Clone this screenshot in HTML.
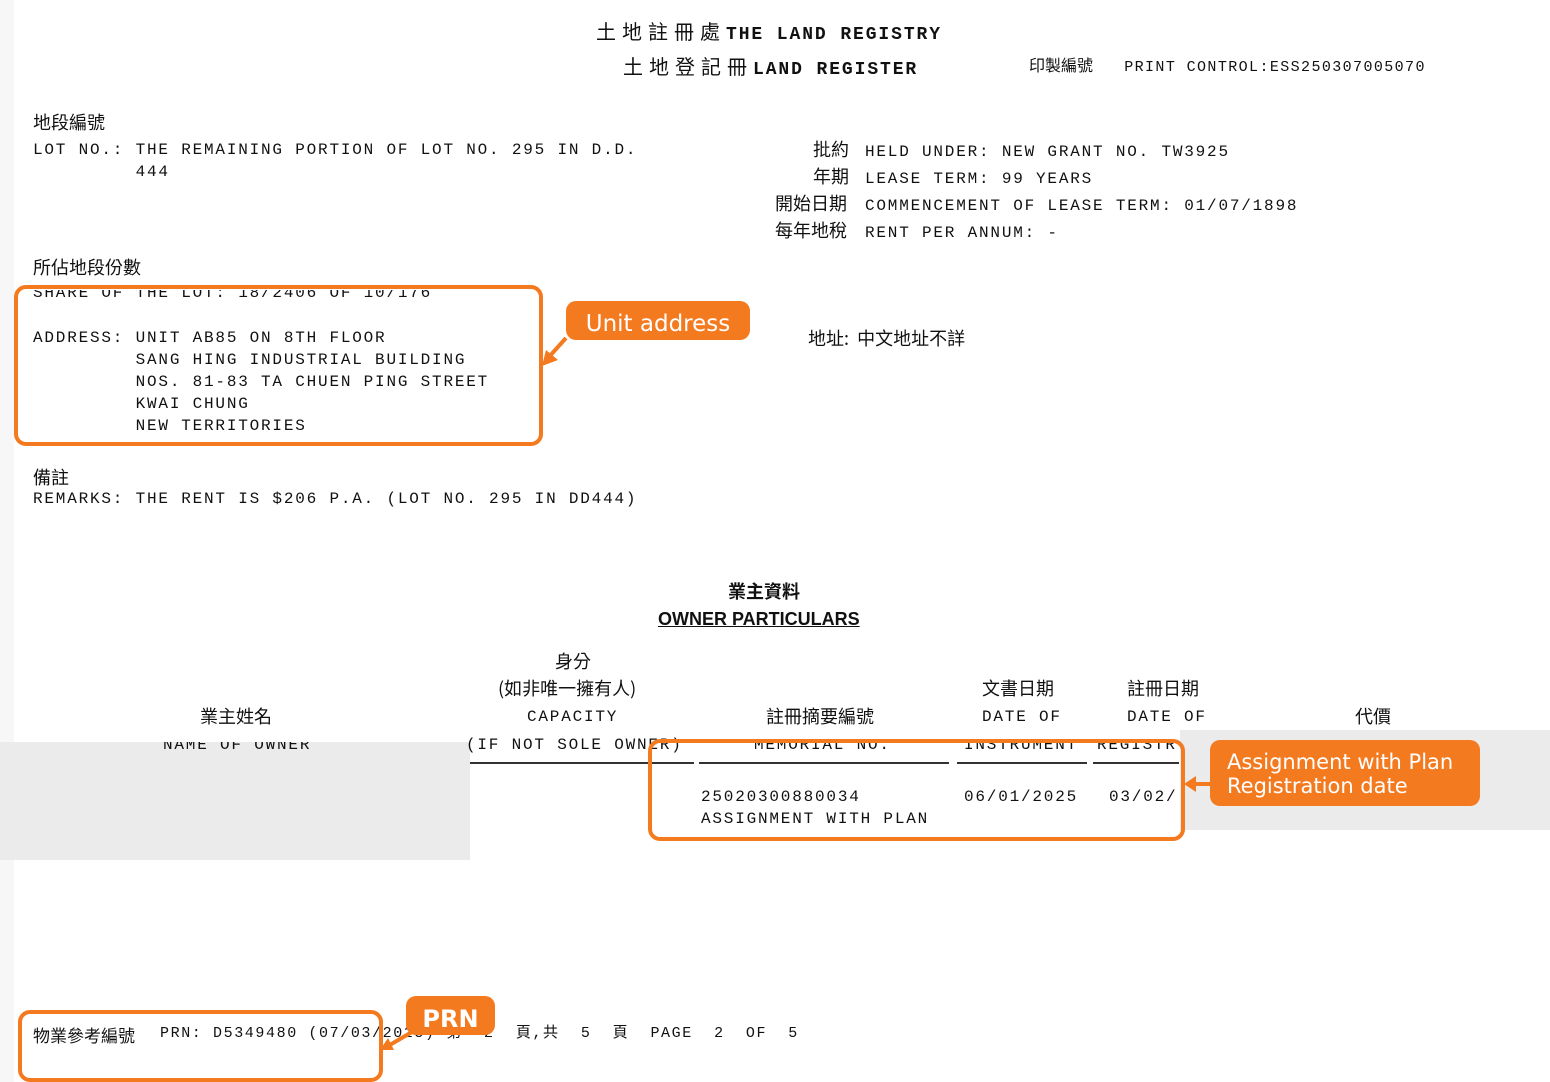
<!DOCTYPE html>
<html><head><meta charset="utf-8"><style>
body{margin:0;width:1550px;height:1082px;background:#fff;position:relative;overflow:hidden;font-family:"Liberation Sans","Noto Sans CJK TC",sans-serif;color:#111}
.a{position:absolute;white-space:pre}
.m{font-family:"Liberation Mono","Noto Sans CJK TC",monospace;font-size:16px;letter-spacing:1.8px;line-height:22px}
.c{font-family:"Noto Sans CJK TC",sans-serif;font-size:18px}
.box{position:absolute;border:4px solid #f47a20;border-radius:12px}
.tag{position:absolute;background:#f47a20;color:#fff;border-radius:10px;font-family:"DejaVu Sans",sans-serif}
.g{position:absolute;background:#ebebeb}
</style></head><body>
<div class="g" style="left:0;top:0;width:14px;height:1082px;background:#f7f7f7"></div>
<div class="g" style="left:0;top:742px;width:470px;height:118px"></div>
<div class="g" style="left:1180px;top:730px;width:370px;height:100px"></div>

<div class="a" style="left:596px;top:16px;font-size:20px"><span class="c" style="font-size:20px;letter-spacing:6px">土地註冊處</span><span style="font-family:'Liberation Mono';font-weight:bold;font-size:18px;letter-spacing:1.9px">THE LAND REGISTRY</span></div>
<div class="a" style="left:623px;top:51px;font-size:20px"><span class="c" style="font-size:20px;letter-spacing:6px">土地登記冊</span><span style="font-family:'Liberation Mono';font-weight:bold;font-size:18px;letter-spacing:1.9px">LAND REGISTER</span></div>
<div class="a" style="left:1029px;top:52px"><span class="c" style="font-size:16px">印製編號</span><span class="m" style="font-size:15px;letter-spacing:1.4px">   PRINT CONTROL:ESS250307005070</span></div>

<div class="a c" style="left:33px;top:109px">地段編號</div>
<div class="a m" style="left:33px;top:139px">LOT NO.: THE REMAINING PORTION OF LOT NO. 295 IN D.D.
         444</div>
<div class="a c" style="left:813px;top:136px">批約</div>
<div class="a c" style="left:813px;top:163px">年期</div>
<div class="a c" style="left:775px;top:190px">開始日期</div>
<div class="a c" style="left:775px;top:217px">每年地稅</div>
<div class="a m" style="left:865px;top:139px;line-height:27px">HELD UNDER: NEW GRANT NO. TW3925
LEASE TERM: 99 YEARS
COMMENCEMENT OF LEASE TERM: 01/07/1898
RENT PER ANNUM: -</div>

<div class="a c" style="left:33px;top:254px">所佔地段份數</div>
<div class="a m" style="left:33px;top:282px;clip-path:inset(8px 0 0 0)">SHARE OF THE LOT: 18/2406 OF 10/176</div>
<div class="a m" style="left:33px;top:327px">ADDRESS: UNIT AB85 ON 8TH FLOOR
         SANG HING INDUSTRIAL BUILDING
         NOS. 81-83 TA CHUEN PING STREET
         KWAI CHUNG
         NEW TERRITORIES</div>
<div class="a c" style="left:808px;top:325px">地址:  中文地址不詳</div>

<div class="a c" style="left:33px;top:464px">備註</div>
<div class="a m" style="left:33px;top:488px">REMARKS: THE RENT IS $206 P.A. (LOT NO. 295 IN DD444)</div>

<div class="a c" style="left:728px;top:578px;font-weight:bold">業主資料</div>
<div class="a" style="left:658px;top:609px;font-size:18px;font-weight:bold;text-decoration:underline">OWNER PARTICULARS</div>

<div class="a c" style="left:555px;top:648px">身分</div>
<div class="a c" style="left:498px;top:675px">(如非唯一擁有人)</div>
<div class="a c" style="left:200px;top:703px">業主姓名</div>
<div class="a m" style="left:527px;top:706px">CAPACITY</div>
<div class="a c" style="left:766px;top:703px">註冊摘要編號</div>
<div class="a c" style="left:982px;top:675px">文書日期</div>
<div class="a c" style="left:1127px;top:675px">註冊日期</div>
<div class="a m" style="left:982px;top:706px">DATE OF</div>
<div class="a m" style="left:1127px;top:706px">DATE OF</div>
<div class="a c" style="left:1355px;top:703px">代價</div>
<div class="a m" style="left:163px;top:734px;clip-path:inset(8px 0 0 0)">NAME OF OWNER</div>
<div class="a m" style="left:466px;top:734px">(IF NOT SOLE OWNER)</div>
<div class="a m" style="left:754px;top:734px;clip-path:inset(8px 0 0 0)">MEMORIAL NO.</div>
<div class="a m" style="left:964px;top:734px;clip-path:inset(8px 0 0 0)">INSTRUMENT</div>
<div class="a m" style="left:1097px;top:734px;clip-path:inset(8px 0 0 0)">REGISTR</div>
<div class="a" style="left:470px;top:762px;width:224px;border-top:2px solid #333"></div>
<div class="a" style="left:699px;top:762px;width:250px;border-top:2px solid #333"></div>
<div class="a" style="left:957px;top:762px;width:130px;border-top:2px solid #333"></div>
<div class="a" style="left:1093px;top:762px;width:86px;border-top:2px solid #333"></div>
<div class="a m" style="left:701px;top:786px">25020300880034
ASSIGNMENT WITH PLAN</div>
<div class="a m" style="left:964px;top:786px">06/01/2025</div>
<div class="a m" style="left:1109px;top:786px">03/02/</div>

<div class="a c" style="left:33px;top:1022px;font-size:17px">物業參考編號</div>
<div class="a m" style="left:160px;top:1023px;font-size:15px;letter-spacing:1.6px">PRN: D5349480 (07/03/2025) 第  2  頁,共  5  頁  PAGE  2  OF  5</div>

<div class="box" style="left:14px;top:285px;width:521px;height:153px"></div>
<div class="tag" style="left:566px;top:301px;width:184px;height:39px;font-size:23px;line-height:46px;text-align:center">Unit address</div>
<svg class="a" style="left:538px;top:334px" width="34" height="36"><line x1="28" y1="4" x2="10" y2="24" stroke="#f47a20" stroke-width="4"/><polygon points="4,32 8,16 20,26" fill="#f47a20"/></svg>

<div class="box" style="left:648px;top:739px;width:529px;height:94px"></div>
<div class="tag" style="left:1210px;top:740px;width:270px;height:66px;font-size:21px;line-height:24px;padding:10px 0 0 17px;box-sizing:border-box">Assignment with Plan<br>Registration date</div>
<svg class="a" style="left:1182px;top:772px" width="30" height="24"><line x1="28" y1="12" x2="10" y2="12" stroke="#f47a20" stroke-width="4"/><polygon points="2,12 14,4 14,20" fill="#f47a20"/></svg>

<div class="box" style="left:18px;top:1010px;width:357px;height:64px"></div>
<div class="tag" style="left:406px;top:996px;width:89px;height:39px;font-size:24px;font-weight:bold;line-height:46px;text-align:center">PRN</div>
<svg class="a" style="left:376px;top:1028px" width="40" height="26"><line x1="36" y1="4" x2="12" y2="18" stroke="#f47a20" stroke-width="4"/><polygon points="4,22 12,10 18,22" fill="#f47a20"/></svg>
</body></html>
